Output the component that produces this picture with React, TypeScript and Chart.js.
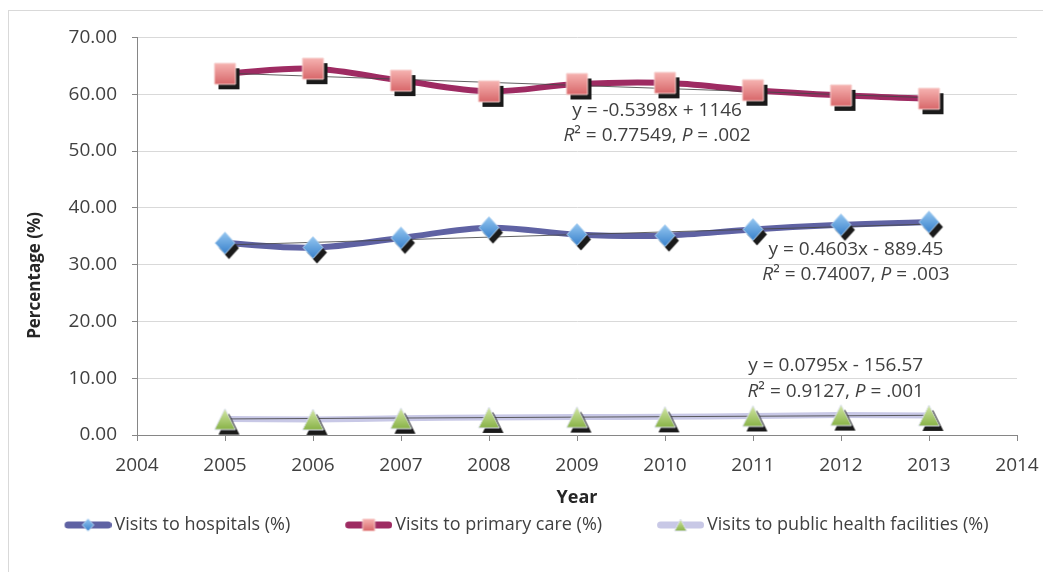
import React, { useEffect, useRef } from 'react';
import { Chart, registerables } from 'chart.js';

Chart.register(...registerables);

// ---------- data ----------
const years = [2005, 2006, 2007, 2008, 2009, 2010, 2011, 2012, 2013];
const hospitalVisits = [33.8, 33.0, 34.7, 36.5, 35.3, 35.1, 36.2, 37.0, 37.5];
const primaryCareVisits = [63.6, 64.5, 62.4, 60.5, 61.8, 62.0, 60.7, 59.8, 59.2];
const publicHealthVisits = [2.8, 2.75, 2.95, 3.1, 3.15, 3.2, 3.35, 3.5, 3.45];
const seriesLabels = [
  'Visits to hospitals (%)',
  'Visits to primary care (%)',
  'Visits to public health facilities (%)',
];
const trendSlopes = [0.4603, -0.5398, 0.0795];
const trendIntercepts = [-889.45, 1146, -156.57];
const equationTexts = ['y = 0.4603x - 889.45', 'y = -0.5398x + 1146', 'y = 0.0795x - 156.57'];
const rSquaredTexts = ['0.74007', '0.77549', '0.9127'];
const pValueTexts = ['.003', '.002', '.001'];
const xAxisRange = [2004, 2014];
const yAxisRange = [0, 70];
const yStep = 10;
const xTitle = 'Year';
const yTitle = 'Percentage (%)';

// ---------- styling / label placement (data units) ----------
const lineColors = ['#5f62a3', '#9e2b62', '#c8c8e6'];
const markerStyles = [
  { shape: 'diamond', top: '#92c5f0', bottom: '#3a82cc', stroke: '#b8d6f2' },
  { shape: 'square', top: '#f6b3b1', bottom: '#d8676a', stroke: '#f7cfcd' },
  { shape: 'triangle', top: '#d4e8a8', bottom: '#88b246', stroke: '#dfe3f0' },
];
const labelPlacement = [
  { x: 2012.17, eqY: 32.7, r2Y: 28.3 },
  { x: 2009.91, eqY: 57.2, r2Y: 52.8 },
  { x: 2011.94, eqY: 12.25, r2Y: 7.6 },
];
const FONT = '"Open Sans", sans-serif';
const TEXT = '#404040';

function makeMarker(shape: string, top: string, bottom: string, stroke: string, half: number, shadow: boolean) {
  const off = shadow ? 5 : 0;
  const size = Math.ceil(2 * (half + off + 2));
  const c = document.createElement('canvas');
  c.width = size;
  c.height = size;
  const g = c.getContext('2d')!;
  const cx = size / 2;
  const cy = size / 2;
  const path = (ox: number, oy: number) => {
    g.beginPath();
    if (shape === 'diamond') {
      g.moveTo(cx + ox, cy + oy - half * 1.05);
      g.lineTo(cx + ox + half * 0.95, cy + oy);
      g.lineTo(cx + ox, cy + oy + half * 1.05);
      g.lineTo(cx + ox - half * 0.95, cy + oy);
    } else if (shape === 'square') {
      g.rect(cx + ox - half, cy + oy - half, half * 2, half * 2);
    } else {
      g.moveTo(cx + ox, cy + oy - half);
      g.lineTo(cx + ox + half, cy + oy + half);
      g.lineTo(cx + ox - half, cy + oy + half);
    }
    g.closePath();
  };
  if (shadow) {
    path(4, 5);
    g.fillStyle = '#1a1a1a';
    g.fill();
  }
  path(0, 0);
  const grad = g.createLinearGradient(0, cy - half, 0, cy + half);
  grad.addColorStop(0, top);
  grad.addColorStop(1, bottom);
  g.fillStyle = grad;
  g.fill();
  g.strokeStyle = stroke;
  g.lineWidth = 1;
  g.stroke();
  return c;
}

function makeLegendSample(color: string, marker: HTMLCanvasElement) {
  const W = 80;
  const H = 22;
  const c = document.createElement('canvas');
  c.width = W;
  c.height = H;
  const g = c.getContext('2d')!;
  g.strokeStyle = color;
  g.lineWidth = 7;
  g.lineCap = 'round';
  g.beginPath();
  g.moveTo(33 + 3.5, H / 2);
  g.lineTo(W - 3.5, H / 2);
  g.stroke();
  g.drawImage(marker, 56.5 - marker.width / 2, H / 2 - marker.height / 2);
  return c;
}

function drawRich(ctx: CanvasRenderingContext2D, parts: [string, boolean][], cx: number, cy: number, size: number) {
  const fonts = parts.map(([, it]) => `${it ? 'italic ' : ''}${size}px ${FONT}`);
  const widths = parts.map(([t], i) => {
    ctx.font = fonts[i];
    return ctx.measureText(t).width;
  });
  const total = widths.reduce((a, b) => a + b, 0);
  let x = cx - total / 2;
  ctx.textBaseline = 'middle';
  ctx.textAlign = 'left';
  ctx.fillStyle = TEXT;
  parts.forEach(([t], i) => {
    ctx.font = fonts[i];
    ctx.fillText(t, x, cy);
    x += widths[i];
  });
}

const annotationPlugin = {
  id: 'trendAnnotations',
  afterDraw(chart: any) {
    const { ctx, scales } = chart;
    ctx.save();
    labelPlacement.forEach((p, i) => {
      const px = scales.x.getPixelForValue(p.x);
      drawRich(ctx, [[equationTexts[i], false]], px, scales.y.getPixelForValue(p.eqY), 19);
      drawRich(
        ctx,
        [
          ['R', true],
          ['\u00B2', false],
          [` = ${rSquaredTexts[i]}, `, false],
          ['P', true],
          [` = ${pValueTexts[i]}`, false],
        ],
        px,
        scales.y.getPixelForValue(p.r2Y),
        19
      );
    });
    // y axis title
    const area = chart.chartArea;
    ctx.translate(26, area.top + 238);
    ctx.rotate(-Math.PI / 2);
    ctx.font = `bold 17px ${FONT}`;
    ctx.fillStyle = '#262626';
    ctx.textAlign = 'center';
    ctx.textBaseline = 'middle';
    ctx.fillText(yTitle, 0, 0);
    ctx.restore();
  },
};

export default function App() {
  const ref = useRef<HTMLCanvasElement | null>(null);

  useEffect(() => {
    if (!ref.current) return;
    const seriesValues = [hospitalVisits, primaryCareVisits, publicHealthVisits];
    const markers = markerStyles.map((m) => makeMarker(m.shape, m.top, m.bottom, m.stroke, 10.5, true));
    const legendMarkers = markerStyles.map((m) => makeMarker(m.shape, m.top, m.bottom, m.stroke, 6, false));
    const legendSamples = legendMarkers.map((m, i) => makeLegendSample(lineColors[i], m));

    const datasets: any[] = [];
    seriesValues.forEach((vals, i) => {
      const pts = years.map((yr, j) => ({ x: yr, y: vals[j] }));
      datasets.push({
        label: seriesLabels[i],
        data: pts,
        borderColor: lineColors[i],
        borderWidth: 6,
        pointRadius: 0,
        tension: 0.35,
        fill: false,
        order: 3,
      });
      const x0 = years[0];
      const x1 = years[years.length - 1];
      datasets.push({
        label: seriesLabels[i] + ' trend',
        data: [
          { x: x0, y: trendSlopes[i] * x0 + trendIntercepts[i] },
          { x: x1, y: trendSlopes[i] * x1 + trendIntercepts[i] },
        ],
        borderColor: 'rgba(70,70,70,0.85)',
        borderWidth: 1,
        pointRadius: 0,
        tension: 0,
        fill: false,
        order: 2,
      });
      datasets.push({
        label: seriesLabels[i] + ' markers',
        data: pts,
        showLine: false,
        pointStyle: markers[i],
        pointRadius: 10,
        order: 1,
      });
    });

    const chart = new Chart(ref.current, {
      type: 'line',
      data: { datasets },
      options: {
        responsive: false,
        animation: false,
        devicePixelRatio: 1,
        layout: { padding: { top: 24, right: 26, bottom: 22, left: 0 } },
        scales: {
          x: {
            type: 'linear',
            min: xAxisRange[0],
            max: xAxisRange[1],
            afterFit: (s: any) => {
              s.height = 53;
            },
            ticks: {
              stepSize: 1,
              autoSkip: false,
              padding: 4,
              color: TEXT,
              font: { family: FONT, size: 19, lineHeight: '42px' },
              callback: (v: any) => String(v),
            },
            grid: { drawOnChartArea: false, drawTicks: true, tickLength: 6, color: '#868686' },
            border: { color: '#868686' },
            title: {
              display: true,
              text: xTitle,
              color: '#262626',
              font: { family: FONT, size: 18, weight: 'bold' },
              padding: { top: 0, bottom: -20.8 },
            },
          },
          y: {
            type: 'linear',
            min: yAxisRange[0],
            max: yAxisRange[1],
            afterFit: (s: any) => {
              s.width = 128;
            },
            ticks: {
              stepSize: yStep,
              padding: 15,
              color: TEXT,
              font: { family: FONT, size: 19 },
              callback: (v: any) => Number(v).toFixed(2),
            },
            grid: { color: '#d9d9d9', tickColor: '#868686', tickLength: 5 },
            border: { color: '#868686' },
          },
        },
        plugins: {
          tooltip: { enabled: false },
          legend: {
            position: 'bottom',
            labels: {
              usePointStyle: true,
              pointStyleWidth: 68,
              padding: 28,
              color: TEXT,
              font: { family: FONT, size: 18 },
              generateLabels: () =>
                seriesLabels.map((t, i) => ({
                  text: t,
                  pointStyle: legendSamples[i],
                  fontColor: TEXT,
                  fillStyle: 'transparent',
                  strokeStyle: 'transparent',
                  lineWidth: 0,
                  hidden: false,
                  datasetIndex: i * 3,
                })),
            },
            onClick: () => {},
          },
        },
      } as any,
      plugins: [annotationPlugin],
    });
    return () => chart.destroy();
  }, []);

  return (
    <div style={{ paddingTop: 2 }}>
      <div
        style={{
          borderTop: '1px solid #d9d9d9',
          borderLeft: '1px solid #d9d9d9',
          width: 1034,
          height: 561,
          overflow: 'hidden',
        }}
      >
        <canvas ref={ref} width={1034} height={555} style={{ display: 'block', width: 1034, height: 555 }} />
      </div>
    </div>
  );
}
